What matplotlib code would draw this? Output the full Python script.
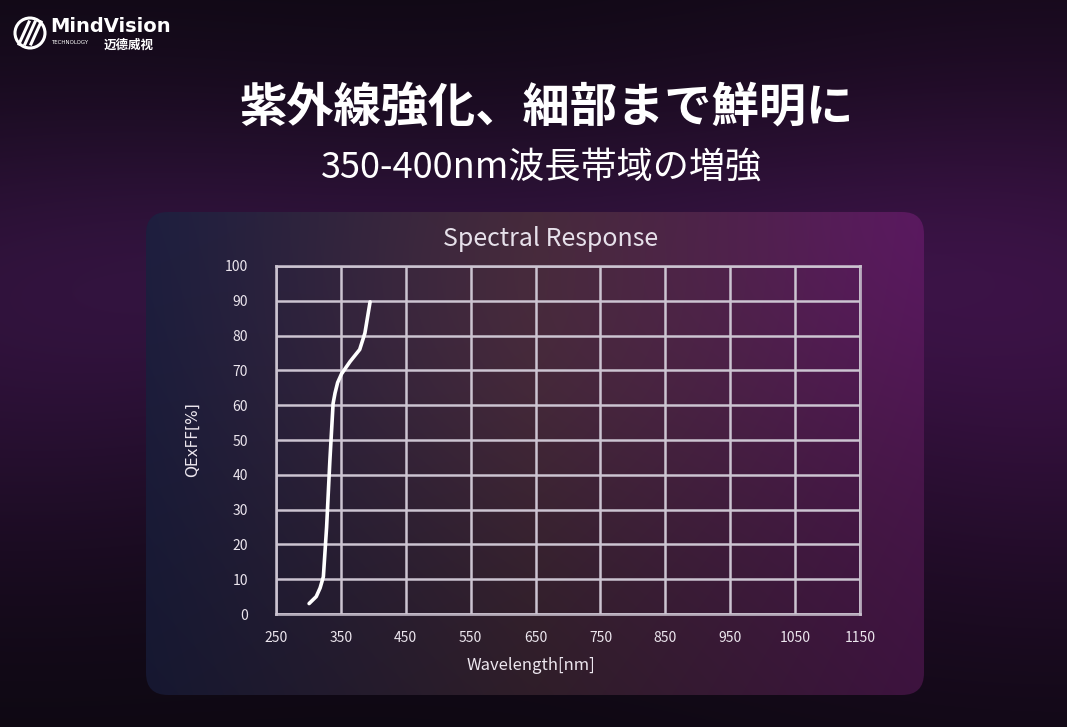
import numpy as np
import matplotlib
matplotlib.use("Agg")
import matplotlib.pyplot as plt
from matplotlib.patches import FancyBboxPatch, Circle

# ---- data ----
wavelength = [301, 312, 318, 323, 328, 333, 338, 341, 345, 351, 364, 379, 387, 395]
qe = [3.0, 5.0, 7.5, 10.7, 25, 44, 60.5, 63.5, 66.5, 69, 72.5, 76, 80.7, 89.7]
x_ticks = [250, 350, 450, 550, 650, 750, 850, 950, 1050, 1150]
y_ticks = [0, 10, 20, 30, 40, 50, 60, 70, 80, 90, 100]
title_main = "紫外線強化、細部まで鮮明に"
title_sub = "350-400nm波長帯域の増強"
chart_title = "Spectral Response"
x_label = "Wavelength[nm]"
y_label = "QExFF[%]"

W, H = 1067, 727
fig = plt.figure(figsize=(W / 100, H / 100), dpi=100)

# ---- background ----
bg = fig.add_axes([0, 0, 1, 1])
bg.set_xlim(0, W)
bg.set_ylim(H, 0)
bg.axis("off")
yy, xx = np.mgrid[0:H, 0:W].astype(float)
base = np.array([12, 8, 16], float)
img = np.ones((H, W, 3)) * base
def glow(cx, cy, rx, ry, col):
    d = ((xx - cx) / rx) ** 2 + ((yy - cy) / ry) ** 2
    return np.exp(-d)[..., None] * np.array(col, float)
img += glow(0, 330, 500, 260, [30, 8, 36])
img += glow(1067, 330, 500, 300, [40, 8, 45])
img += glow(530, 260, 600, 140, [16, 6, 20])
img = np.clip(img, 0, 255) / 255.0
bg.imshow(img, extent=[0, W, H, 0], aspect="auto", zorder=0)

# ---- panel ----
px0, py0, px1, py1 = 146, 212, 924, 695
u = (xx - px0) / (px1 - px0)
v = (yy - py0) / (py1 - py0)
left = np.array([28, 30, 62], float)
mid = np.array([60, 38, 52], float)
right = np.array([78, 24, 80], float)
uc = np.clip(u, 0, 1)[..., None]
pimg = np.where(uc < 0.5, left + (mid - left) * (uc / 0.5), mid + (right - mid) * ((uc - 0.5) / 0.5))
vc = np.clip(v, 0, 1)[..., None]
pimg = pimg * (1.0 - 0.22 * vc)
pimg += np.exp(-(((xx - 924) / 200) ** 2 + ((yy - 230) / 200) ** 2))[..., None] * np.array([10, 0, 14])
pimg += np.exp(-(((xx - 540) / 300) ** 2 + ((yy - 330) / 200) ** 2))[..., None] * np.array([14, 6, 10])
pimg = np.clip(pimg, 0, 255) / 255.0
patch = FancyBboxPatch((px0, py0), px1 - px0, py1 - py0,
                       boxstyle="round,pad=0,rounding_size=22",
                       facecolor="none", edgecolor="none")
bg.add_patch(patch)
pim = bg.imshow(pimg, extent=[0, W, H, 0], aspect="auto", zorder=1)
pim.set_clip_path(patch)

# ---- logo ----
bg.add_patch(Circle((30, 33), 15, facecolor="none", edgecolor="white", lw=2.2, zorder=3))
for k in range(3):
    bg.plot([19 + k * 6, 29 + k * 6], [44, 22], color="white", lw=2.2, zorder=3)
bg.text(50, 27, "MindVision", color="white", fontsize=14, fontweight="bold",
        family=["DejaVu Sans"], va="center", ha="left", zorder=3)
bg.text(51, 43, "TECHNOLOGY", color="white", fontsize=4, family=["DejaVu Sans"],
        va="center", ha="left", zorder=3)
bg.text(104, 45, "迈德威视", color="white", fontsize=9, fontweight="bold",
        family=["Noto Sans CJK SC", "DejaVu Sans"], va="center", ha="left", zorder=3)

# ---- titles ----
cjk = ["Noto Sans CJK JP", "DejaVu Sans"]
bg.text(547, 109, title_main, color="white", fontsize=34, fontweight="bold",
        family=cjk, ha="center", va="center", zorder=3)
bg.text(542, 169, title_sub, color="white", fontsize=26,
        family=cjk, ha="center", va="center", zorder=3)
bg.text(551, 239, chart_title, color="#e6e0ea", fontsize=18,
        family=cjk, ha="center", va="center", zorder=3)
bg.text(531, 665, x_label, color="#ece6ee", fontsize=12,
        family=cjk, ha="center", va="center", zorder=3)

# ---- chart ----
ax = fig.add_axes([276 / W, 1 - 614 / H, (860 - 276) / W, (614 - 266) / H])
ax.patch.set_alpha(0)
ax.set_xlim(250, 1150)
ax.set_ylim(0, 100)
ax.set_xticks(x_ticks)
ax.set_yticks(y_ticks)
ax.set_xticklabels([str(t) for t in x_ticks], family=cjk, fontsize=10, color="#ece6ee")
ax.set_yticklabels([str(t) for t in y_ticks], family=cjk, fontsize=10, color="#ece6ee")
ax.tick_params(length=0, pad=12)
ax.tick_params(axis="y", pad=20)
gridcol = (0.80, 0.77, 0.82, 0.85)
ax.grid(True, color=gridcol, lw=1.8)
for s in ax.spines.values():
    s.set_color(gridcol)
    s.set_linewidth(2.0)
ax.plot(wavelength, qe, color="white", lw=2.6, solid_capstyle="round",
        solid_joinstyle="round", zorder=5)
ax.set_ylabel(y_label, family=["DejaVu Sans"], fontsize=11, color="#ece6ee", labelpad=18)

fig.savefig("out.png", dpi=100)
